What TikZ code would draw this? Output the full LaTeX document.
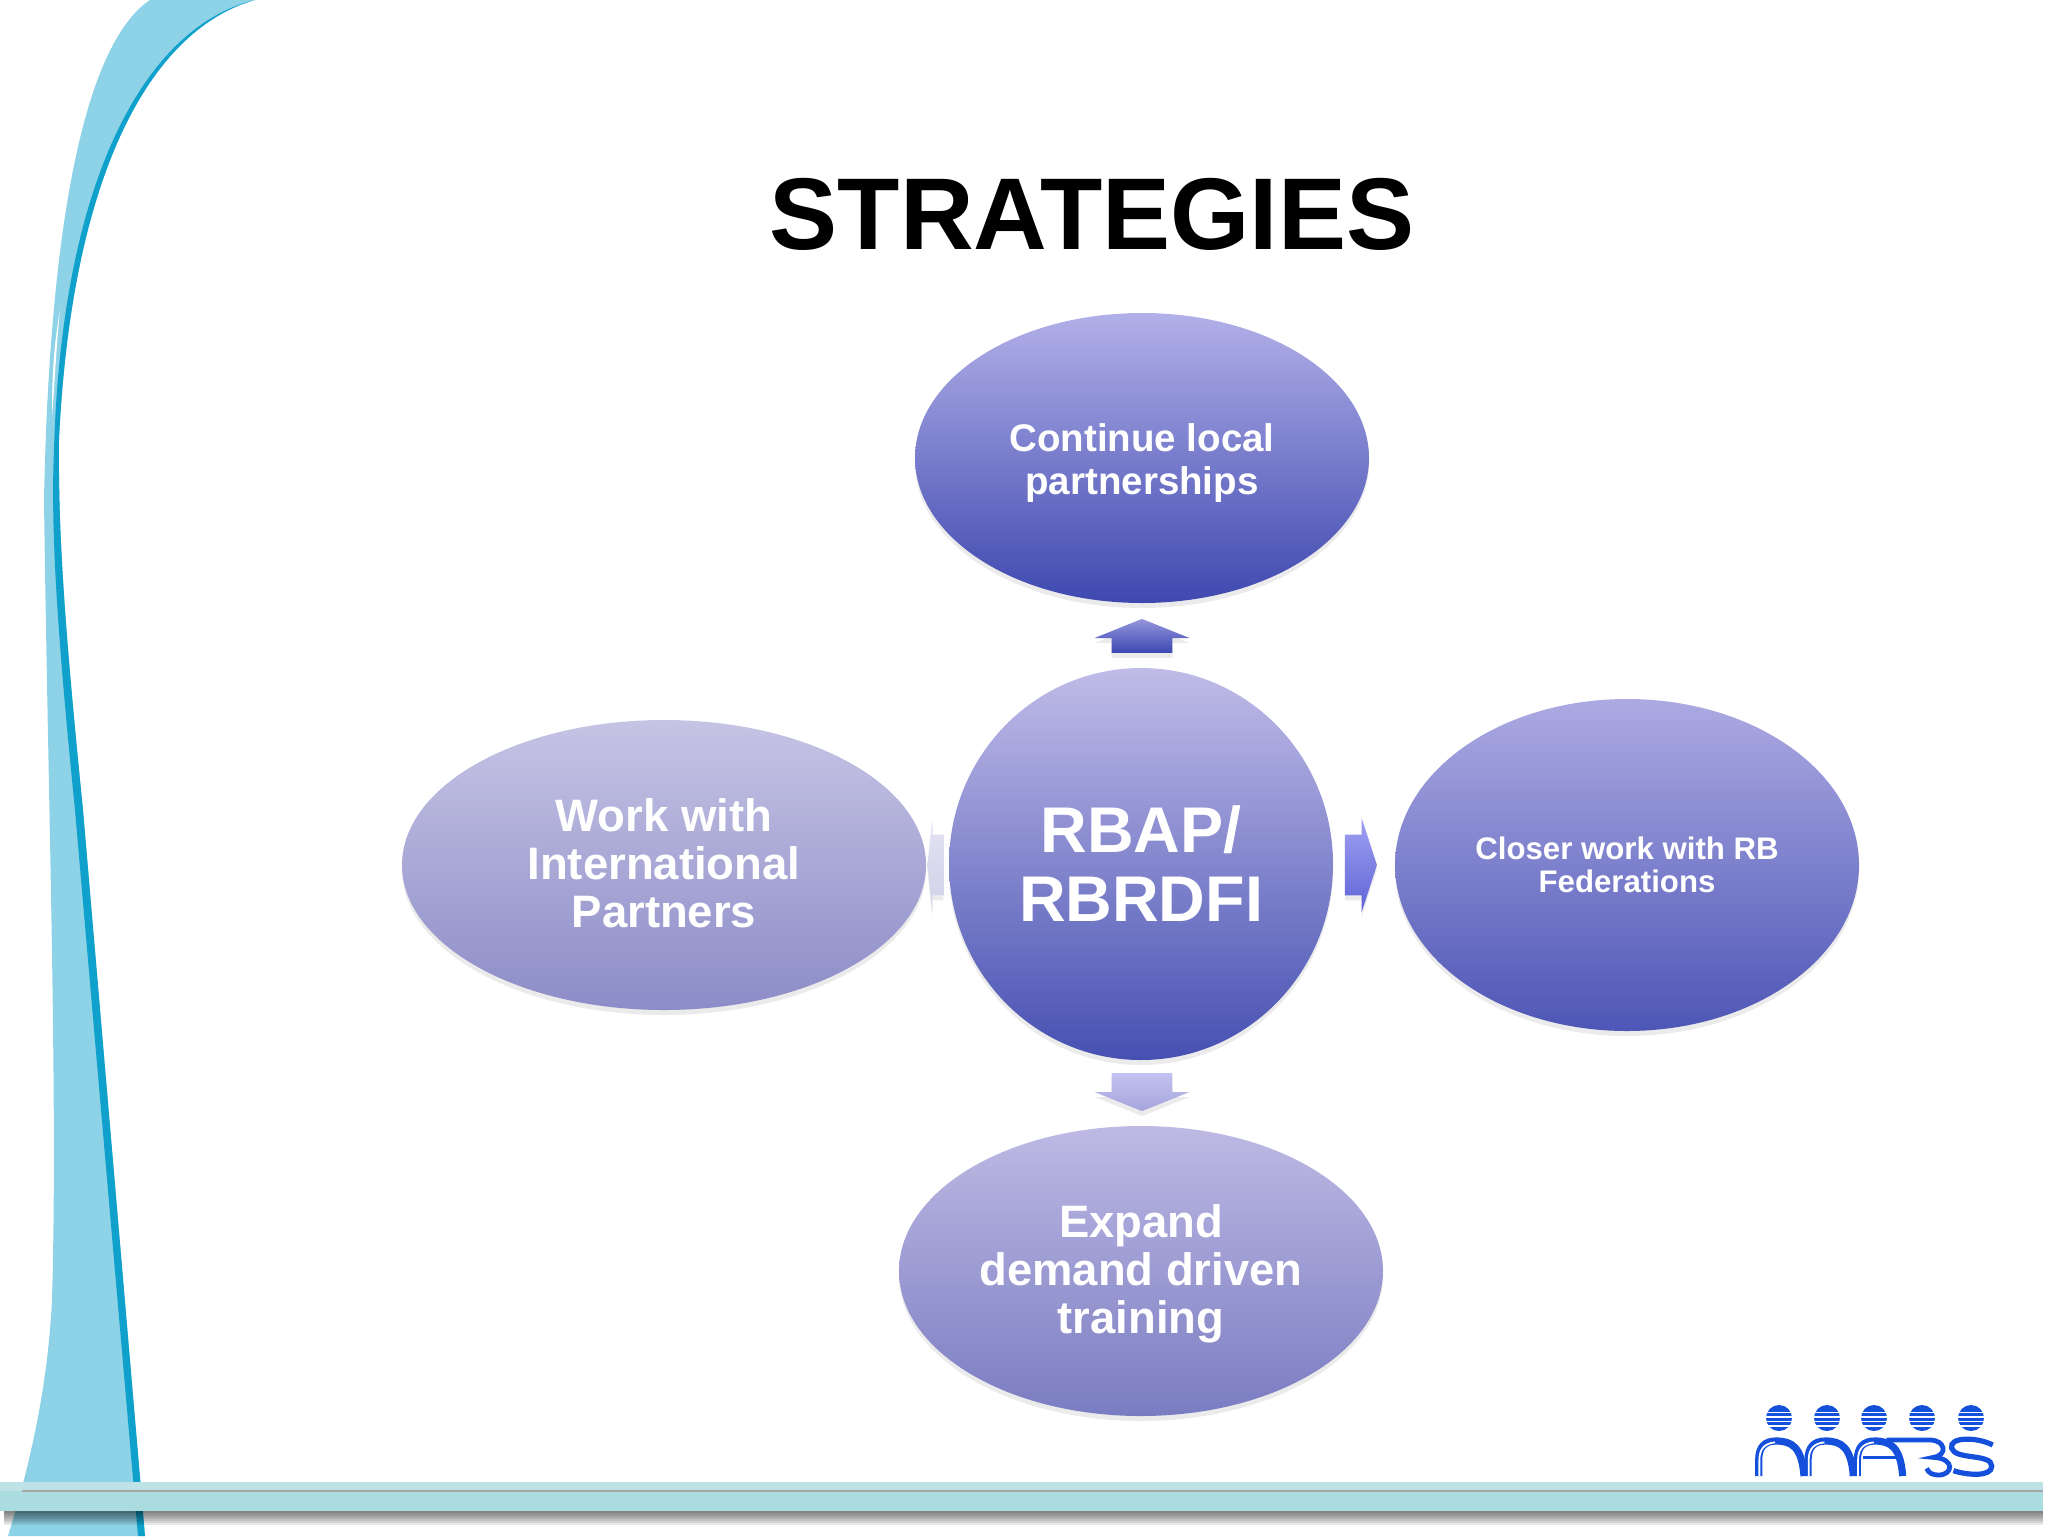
\documentclass[tikz,border=0pt]{standalone}
\usepackage{fontspec}
\setmainfont{Liberation Sans}
\usetikzlibrary{shapes,shadows}
\definecolor{ribbon}{HTML}{8DD2E6}
\definecolor{ribbondark}{HTML}{0FA0CB}
\definecolor{barmain}{HTML}{ABDCE0}
\definecolor{bartop}{HTML}{BFE2E6}
\definecolor{logoblue}{HTML}{1450DC}
\tikzset{every picture/.style={x=0.5pt, y=-0.5pt},
	softshadow/.style={drop shadow={shadow xshift=0pt, shadow yshift=-2.5pt, opacity=.16}},
	blob/.style={ellipse, inner sep=0pt, align=center, text=white, softshadow},
	flow/.style={single arrow, softshadow},
	upflow/.style={flow, shape border rotate=90, inner xsep=15pt, inner ysep=0pt, minimum height=17pt, single arrow tip angle=136, single arrow head extend=8.5pt},
	sideflow/.style={flow, inner ysep=15pt, inner xsep=0pt, minimum height=16pt, single arrow tip angle=144, single arrow head extend=8.25pt},
	ball/.style={circle, fill=logoblue, minimum size=13pt, inner sep=0pt},
	stripe/.style={white, line width=0.55pt},
	logostroke/.style={draw=logoblue, line width=3.6pt},
	logoinline/.style={draw=white, line width=0.9pt}}
\begin{document}
\begin{tikzpicture}
	\useasboundingbox (0,0) rectangle (2048,1536);
	% ribbon on the left
	\fill[ribbon] (150,0) .. controls (90,40) and (50,200) .. (44,500) .. controls (48,800) and (58,1100) .. (52,1300) .. controls (47,1400) and (25,1480) .. (8,1536)
		-- (145,1536) -- (83,810) .. controls (66,640) and (58,540) .. (59,440) .. controls (72,165) and (155,28) .. (255,0) -- cycle;
	\fill[ribbondark] (255,0) .. controls (150,25) and (62,170) .. (54,450) .. controls (50,540) and (60,660) .. (75,810) -- (138,1536)
		-- (145,1536) -- (83,810) .. controls (66,640) and (58,540) .. (59,440) .. controls (72,165) and (155,28) .. (255,0) -- cycle;
	\fill[white] (60,310) .. controls (56,350) and (55,380) .. (52,417) .. controls (52,380) and (53,350) .. (60,310) -- cycle;
	% bar at the bottom
	\foreach \barend in {1513,1515,1517,1519,1521,1523,1525}
		\fill[black, opacity=.09] (4,1511) rectangle (2043,\barend);
	\fill[bartop] (0,1482) rectangle (2043,1491);
	\fill[barmain] (0,1491) rectangle (2043,1511);
	\draw[black!35, line width=0.6pt] (22,1491) -- (2043,1491);
	% title
	\node[anchor=base, font=\bfseries\fontsize{51}{51}\selectfont] (title) at (1092,249) {STRATEGIES};
	% the five blobs
	\node[blob, minimum width=192pt, minimum height=196pt, top color={rgb,255:red,192;green,188;blue,232}, bottom color={rgb,255:red,70;green,80;blue,178}, font=\bfseries\fontsize{32.3}{34.5}\selectfont] (hub) at (1141,864) {RBAP/\\RBRDFI};
	\node[blob, minimum width=227pt, minimum height=145pt, top color={rgb,255:red,178;green,176;blue,232}, bottom color={rgb,255:red,62;green,72;blue,175}, font=\bfseries\fontsize{19.25}{21.5}\selectfont] (local) at (1142,458) {\rule{0pt}{19pt}Continue local\\partnerships};
	\node[blob, minimum width=232pt, minimum height=166pt, top color={rgb,255:red,172;green,170;blue,226}, bottom color={rgb,255:red,78;green,86;blue,182}, font=\bfseries\fontsize{15.6}{16.3}\selectfont] (feder) at (1627,865) {Closer work with RB\\Federations};
	\node[blob, minimum width=262pt, minimum height=145pt, top color={rgb,255:red,198;green,196;blue,228}, bottom color={rgb,255:red,140;green,140;blue,200}, font=\bfseries\fontsize{22.75}{24}\selectfont] (intl) at (664,865) {Work with\\International\\Partners\rule[-1.7pt]{0pt}{1pt}};
	\node[blob, minimum width=242pt, minimum height=145pt, top color={rgb,255:red,190;green,186;blue,228}, bottom color={rgb,255:red,122;green,124;blue,194}, font=\bfseries\fontsize{22.7}{24}\selectfont] (train) at (1141,1271) {\rule{0pt}{19.6pt}Expand\\demand driven\\training};
	% arrows between them
	\node[upflow, top color={rgb,255:red,150;green,150;blue,220}, bottom color={rgb,255:red,60;green,72;blue,178}] (toLocal) at (1142,642) {};
	\node[upflow, shape border rotate=270, minimum height=19pt, top color={rgb,255:red,196;green,194;blue,240}, bottom color={rgb,255:red,165;green,165;blue,220}] (toTrain) at (1142,1086) {};
	\node[sideflow, top color={rgb,255:red,160;green,160;blue,240}, bottom color={rgb,255:red,95;green,100;blue,215}] (toFeder) at (1356,865) {};
	\node[sideflow, shape border rotate=180, minimum height=8pt, single arrow tip angle=168, top color={rgb,255:red,228;green,228;blue,244}, bottom color={rgb,255:red,208;green,208;blue,232}] (toIntl) at (937,865) {};
	% logo
	\foreach \ballx/\ballname in {1779/a,1827/b,1874/c,1922/d,1971/e} {
		\node[ball] (ball\ballname) at (\ballx,1418) {};
		\foreach \dy in {-5.5,-1,3.5,8}
			\draw[stripe] ([xshift=-8pt,yshift=-\dy*0.5pt]ball\ballname.center) -- ([xshift=8pt,yshift=-\dy*0.5pt]ball\ballname.center);
	}
	\begin{scope}[shift={(1700,1380)}, x=0.1667pt, y=-0.1667pt]
		\foreach \lx in {0,148,296} {
			\draw[logostroke] (176+\lx,288) -- (176+\lx,240) .. controls (176+\lx,200) and (195+\lx,183) .. (228+\lx,183) .. controls (275+\lx,183) and (305+\lx,200) .. (312+\lx,288);
			\draw[logoinline] (178+\lx,288) -- (178+\lx,240) .. controls (178+\lx,205) and (195+\lx,190) .. (225+\lx,187);
		}
		\draw[logostroke, line width=1.4pt] (490,232) -- (600,232);
		\draw[logostroke, line width=2.4pt] (560,180) -- (690,180) .. controls (735,180) and (745,225) .. (700,232) .. controls (765,235) and (760,285) .. (715,285) .. controls (700,285) and (685,280) .. (680,265);
		\draw[logostroke, line width=2.6pt] (878,195) .. controls (830,170) and (745,170) .. (755,205) .. controls (765,240) and (875,220) .. (875,258) .. controls (875,292) and (800,285) .. (760,272);
	\end{scope}
\end{tikzpicture}
\end{document}
